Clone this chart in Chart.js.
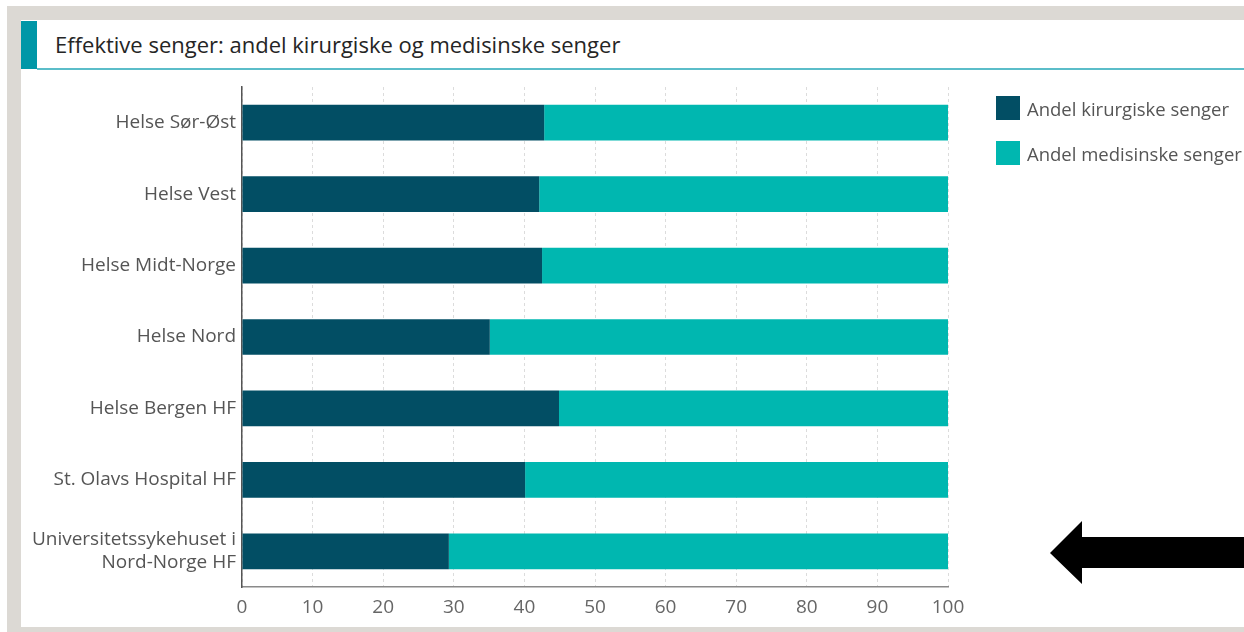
<!DOCTYPE html>
<html>
<head>
<meta charset="utf-8">
<script src="https://cdn.jsdelivr.net/npm/chart.js@4.4.0/dist/chart.umd.min.js"></script>
<style>
  html, body { margin:0; padding:0; background:#fff; width:1244px; height:632px; overflow:hidden; font-family:"Open Sans", sans-serif; }
  .frame { position:absolute; left:7px; top:6px; right:0; bottom:0; background:#dcd9d4; }
  .panel { position:absolute; left:21px; top:20px; right:0; height:607px; background:#fff; }
  .title-block { position:absolute; left:21px; top:21px; width:16px; height:48px; background:#0097a7; }
  .title-line { position:absolute; left:37px; top:68px; right:0; height:2px; background:#5bbdc9; }
  .title { position:absolute; left:55px; top:29px; font-size:22px; color:#252525; white-space:nowrap; }
  .chart-box { position:absolute; left:21px; top:71px; width:1223px; height:556px; }
  #legend { position:absolute; left:996px; top:96px; }
  .leg-item { display:flex; align-items:center; height:24px; margin-bottom:21px; font-size:18.5px; color:#555; white-space:nowrap; }
  .leg-box { width:24px; height:24px; margin-right:7px; }
  svg.arrow { position:absolute; left:0; top:0; }
</style>
</head>
<body>
<div class="frame"></div>
<div class="panel"></div>
<div class="title-block"></div>
<div class="title-line"></div>
<div class="title">Effektive senger: andel kirurgiske og medisinske senger</div>
<div class="chart-box"><canvas id="chart"></canvas></div>
<div id="legend"></div>
<svg class="arrow" width="1244" height="632">
  <polygon points="1050,553 1082,521 1082,537 1244,537 1244,568 1082,568 1082,584" fill="#000"/>
</svg>

<script>
// Effektive senger - andel kirurgiske / medisinske

const regions = [
  'Helse Sør-Øst',
  'Helse Vest',
  'Helse Midt-Norge',
  'Helse Nord',
  'Helse Bergen HF',
  'St. Olavs Hospital HF',
  ['Universitetssykehuset i', 'Nord-Norge HF']
];
const surgicalShare = [42.8, 42.1, 42.5, 35.1, 44.9, 40.1, 29.3];
const medicalShare  = [57.2, 57.9, 57.5, 64.9, 55.1, 59.9, 70.7];
const xTicks = [0, 10, 20, 30, 40, 50, 60, 70, 80, 90, 100];

const seriesNames  = ['Andel kirurgiske senger', 'Andel medisinske senger'];
const seriesColors = ['#024e64', '#00b7b0'];

const font = '"Open Sans", sans-serif';

const ctx = document.getElementById('chart').getContext('2d');
const chart = new Chart(ctx, {
  type: 'bar',
  data: {
    labels: regions,
    datasets: [
      { label: seriesNames[0], data: surgicalShare, backgroundColor: seriesColors[0] },
      { label: seriesNames[1], data: medicalShare,  backgroundColor: seriesColors[1] },
    ]
  },
  options: {
    indexAxis: 'y',
    responsive: true,
    maintainAspectRatio: false,
    animation: false,
    layout: { padding: { left: 0, top: 16, right: 296, bottom: 0 } },
    datasets: { bar: { categoryPercentage: 1, barPercentage: 0.5 } },
    plugins: {
      legend: { display: false },
      tooltip: { enabled: false },
    },
    scales: {
      x: {
        stacked: true,
        min: 0,
        max: 100,
        afterBuildTicks: s => { s.ticks = xTicks.map(v => ({ value: v })); },
        ticks: { color: '#666', font: { family: font, size: 19 }, padding: 9, maxRotation: 0 },
        grid: { color: '#dcdcdc', lineWidth: 1, drawTicks: false },
        border: { display: true, color: '#8a8a8a', width: 1.5, dash: [3, 3] },
        afterFit: s => { s.height = 40; s.paddingLeft = 0; s.paddingRight = 0; },
      },
      y: {
        stacked: true,
        ticks: { color: '#555', font: { family: font, size: 19, lineHeight: 1.2 }, padding: 6 },
        grid: { color: 'transparent', drawTicks: false },
        border: { display: true, color: '#555', width: 1.5 },
        afterFit: s => { s.width = 221; s.paddingTop = 0; s.paddingBottom = 0; },
      }
    }
  }
});

// HTML legend from the datasets
document.getElementById('legend').innerHTML = chart.data.datasets.map(ds => `
  <div class="leg-item"><div class="leg-box" style="background:${ds.backgroundColor};"></div>${ds.label}</div>
`).join('');
</script>
</body>
</html>
